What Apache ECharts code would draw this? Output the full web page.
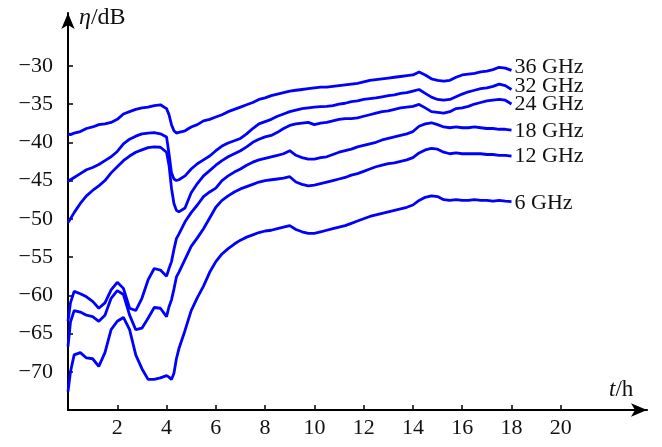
<!DOCTYPE html>
<html>
<head>
<meta charset="utf-8">
<script src="https://cdn.jsdelivr.net/npm/echarts@6/dist/echarts.min.js"></script>
<style>
    html, body { margin: 0; padding: 0; background: #fff; }
    #chart { width: 662px; height: 447px; }
</style>
</head>
<body>
<div id="chart"></div>
<script>
// time axis, hours
const hours = [0, 0.1, 0.25, 0.5, 0.75, 1, 1.25, 1.5, 1.75, 2, 2.25, 2.5, 2.75, 3, 3.25, 3.5, 3.75, 4,
    4.1, 4.2, 4.3, 4.4, 4.5, 4.75, 5, 5.25, 5.5, 5.75, 6, 6.25, 6.5, 6.75, 7, 7.25, 7.5, 7.75, 8,
    8.25, 8.5, 8.75, 9, 9.25, 9.5, 9.75, 10, 10.25, 10.5, 10.75, 11, 11.25, 11.5, 11.75, 12,
    12.25, 12.5, 12.75, 13, 13.25, 13.5, 13.75, 14, 14.25, 14.5, 14.75, 15, 15.25, 15.5, 15.75, 16,
    16.25, 16.5, 16.75, 17, 17.25, 17.5, 17.75, 18];

const ghz36 = [-38.9, -39.0, -38.8, -38.6, -38.2, -38.0, -37.7, -37.6, -37.4, -37.0, -36.3, -36.0, -35.7, -35.5, -35.4, -35.2, -35.1, -35.6,
    -36.4, -37.7, -38.5, -38.8, -38.7, -38.5, -38.0, -37.7, -37.2, -37.0, -36.7, -36.4, -36.0, -35.7, -35.4, -35.1, -34.8, -34.4, -34.2,
    -33.9, -33.7, -33.5, -33.3, -33.2, -33.1, -33.0, -32.9, -32.8, -32.8, -32.7, -32.6, -32.5, -32.4, -32.3, -32.1,
    -31.9, -31.8, -31.7, -31.6, -31.5, -31.4, -31.3, -31.2, -30.8, -31.2, -31.7, -31.9, -32.0, -31.9, -31.5, -31.2,
    -31.1, -31.0, -30.8, -30.7, -30.5, -30.2, -30.3, -30.6];

const ghz32 = [-45.1, -44.9, -44.6, -44.1, -43.6, -43.3, -42.9, -42.4, -41.9, -41.2, -40.2, -39.6, -39.2, -38.9, -38.8, -38.75, -38.9, -39.3,
    -41.5, -44.0, -44.8, -45.0, -44.9, -44.4, -43.5, -42.8, -42.3, -41.8, -41.1, -40.5, -40.1, -39.8, -39.5, -38.9, -38.2, -37.6, -37.3,
    -37.0, -36.6, -36.3, -36.0, -35.8, -35.6, -35.5, -35.4, -35.35, -35.3, -35.2, -35.0, -34.9, -34.7, -34.6, -34.4,
    -34.3, -34.2, -34.05, -33.9, -33.8, -33.6, -33.5, -33.3, -33.1, -33.6, -34.1, -34.4, -34.5, -34.4, -34.05, -33.7,
    -33.4, -33.2, -33.0, -32.9, -32.7, -32.4, -32.6, -33.1];

const ghz24 = [-50.5, -50.0, -49.2, -48.0, -47.0, -46.3, -45.7, -45.0, -44.0, -43.2, -42.4, -41.8, -41.3, -41.0, -40.7, -40.6, -40.65, -41.3,
    -43.0, -46.0, -48.0, -48.9, -49.1, -48.6, -46.6, -45.4, -44.4, -43.7, -43.0, -42.4, -41.9, -41.5, -41.1, -40.6, -40.0, -39.6, -39.3,
    -39.1, -38.7, -38.2, -37.8, -37.6, -37.5, -37.4, -37.7, -37.5, -37.4, -37.2, -37.0, -36.9, -36.9, -36.8, -36.6,
    -36.4, -36.2, -36.0, -35.9, -35.7, -35.5, -35.4, -35.3, -35.05, -35.5, -36.0, -36.1, -36.2, -36.0, -35.6, -35.5,
    -35.3, -35.0, -34.8, -34.6, -34.5, -34.4, -34.5, -35.0];

const ghz18 = [-63.4, -61.0, -59.5, -59.8, -60.2, -60.8, -61.7, -61.0, -59.3, -58.3, -59.1, -61.7, -62.0, -60.4, -58.0, -56.5, -56.7, -57.5,
    -56.5, -55.6, -54.0, -52.6, -52.0, -50.4, -49.2, -48.2, -47.1, -46.5, -46.0, -45.0, -44.4, -43.9, -43.5, -43.0, -42.6, -42.3, -42.1,
    -41.9, -41.7, -41.5, -41.1, -41.7, -42.0, -42.2, -42.2, -42.0, -41.9, -41.6, -41.3, -41.1, -40.9, -40.6, -40.4,
    -40.2, -40.0, -39.7, -39.5, -39.3, -39.1, -38.9, -38.6, -37.9, -37.6, -37.45, -37.7, -38.0, -38.1, -38.0, -38.1,
    -38.1, -38.0, -38.1, -38.2, -38.2, -38.3, -38.3, -38.4];

const ghz12 = [-66.7, -63.5, -62.0, -62.2, -62.6, -62.8, -63.4, -62.6, -60.4, -59.4, -59.9, -62.6, -64.5, -64.3, -63.0, -61.6, -61.7, -62.8,
    -61.5, -60.6, -59.2, -57.6, -57.0, -55.3, -53.6, -52.5, -51.3, -49.9, -48.5, -47.6, -47.0, -46.5, -46.1, -45.8, -45.5, -45.2, -45.0,
    -44.9, -44.8, -44.7, -44.5, -45.2, -45.5, -45.7, -45.6, -45.4, -45.2, -45.0, -44.8, -44.6, -44.3, -44.1, -43.8,
    -43.5, -43.2, -43.0, -42.8, -42.7, -42.5, -42.3, -42.0, -41.4, -41.0, -40.8, -40.9, -41.3, -41.5, -41.4, -41.5,
    -41.5, -41.5, -41.5, -41.6, -41.6, -41.7, -41.7, -41.8];

const ghz6 = [-72.6, -70.0, -67.8, -67.5, -68.2, -68.3, -69.3, -67.5, -64.5, -63.4, -62.9, -64.5, -67.8, -69.6, -71.0, -71.0, -70.8, -70.5,
    -70.7, -71.0, -70.2, -68.3, -67.0, -64.6, -62.0, -60.3, -58.8, -57.0, -55.6, -54.6, -53.9, -53.3, -52.8, -52.4, -52.1, -51.8, -51.6,
    -51.5, -51.3, -51.1, -50.9, -51.4, -51.7, -51.9, -51.9, -51.7, -51.5, -51.3, -51.1, -50.9, -50.6, -50.3, -50.0,
    -49.7, -49.5, -49.3, -49.1, -48.9, -48.7, -48.5, -48.2, -47.6, -47.2, -47.0, -47.1, -47.5, -47.6, -47.5, -47.6,
    -47.6, -47.5, -47.6, -47.6, -47.7, -47.6, -47.7, -47.75];

const seriesNames = ['36 GHz', '32 GHz', '24 GHz', '18 GHz', '12 GHz', '6 GHz'];
const seriesValues = [ghz36, ghz32, ghz24, ghz18, ghz12, ghz6];
const labelShift = [-3, -3, 0, 1, 0, 2];

const xTicks = [2, 4, 6, 8, 10, 12, 14, 16, 18, 20];
const yTicks = [-70, -65, -60, -55, -50, -45, -40, -35, -30];

const serif = 'Liberation Serif, DejaVu Serif, serif';

const chart = echarts.init(document.getElementById('chart'));

const axisLine = {
    show: true,
    symbol: ['none', 'arrow'],
    symbolSize: [10, 16],
    lineStyle: {color: '#000', width: 2},
};

chart.setOption({
    animation: false,
    grid: {left: 68, right: 15, top: 13, bottom: 37},
    xAxis: {
        type: 'value',
        min: 0,
        max: 23.5,
        axisLine: axisLine,
        axisTick: {show: true, inside: true, length: 5, customValues: xTicks, lineStyle: {color: '#000', width: 1.5}},
        axisLabel: {customValues: xTicks, margin: 7, color: '#111', fontFamily: serif, fontSize: 22},
        splitLine: {show: false},
    },
    yAxis: {
        type: 'value',
        min: -75,
        max: -23.1,
        axisLine: axisLine,
        axisTick: {show: true, inside: true, length: 5, customValues: yTicks, lineStyle: {color: '#000', width: 1.5}},
        axisLabel: {
            customValues: yTicks,
            margin: 15,
            color: '#111',
            fontFamily: serif,
            fontSize: 22,
            formatter: (v) => '\u2212' + Math.abs(v),
        },
        splitLine: {show: false},
    },
    graphic: [
        {
            type: 'text',
            left: 79,
            top: 6,
            style: {
                text: '{i|η}/dB',
                rich: {i: {fontStyle: 'italic', fontFamily: serif, fontSize: 24, fill: '#111'}},
                font: '24px ' + serif,
                fill: '#111',
            },
        },
        {
            type: 'text',
            left: 609,
            top: 378,
            style: {
                text: '{i|t}/h',
                rich: {i: {fontStyle: 'italic', fontFamily: serif, fontSize: 23, fill: '#111'}},
                font: '23px ' + serif,
                fill: '#111',
            },
        },
    ],
    series: seriesNames.map((name, i) => ({
        name: name,
        type: 'line',
        data: hours.map((h, j) => [h, seriesValues[i][j]]),
        showSymbol: false,
        lineStyle: {color: '#0000ff', width: 2.8},
        endLabel: {
            show: true,
            formatter: name,
            distance: 3,
            offset: [0, labelShift[i]],
            color: '#111',
            fontFamily: serif,
            fontSize: 22,
        },
    })),
});
</script>
</body>
</html>
